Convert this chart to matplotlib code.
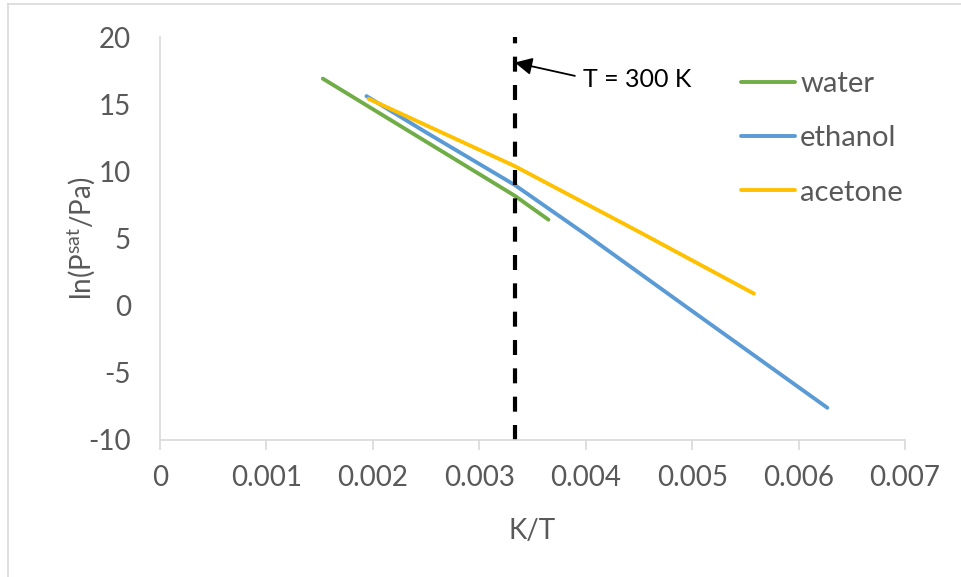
#!/usr/bin/python3
# Vapour pressure curves, ln(Psat/Pa) against 1/T, with a marker at 300 K.
import numpy as np
from matplotlib import pyplot as plt
from matplotlib.lines import Line2D

#--------------------------------------------
# Data
water_x = [0.00153, 0.00333, 0.00365]
water_y = [16.9, 8.2, 6.4]

ethanol_x = [0.00194, 0.0025, 0.00333, 0.004, 0.005, 0.00627]
ethanol_y = [15.6, 12.9, 9.0, 5.3, -0.4, -7.6]

acetone_x = [0.00196, 0.00333, 0.0045, 0.00558]
acetone_y = [15.4, 10.4, 5.5, 0.9]

T_mark = 300.0
x_ticks = [0, 0.001, 0.002, 0.003, 0.004, 0.005, 0.006, 0.007]
x_tick_labels = ["0", "0.001", "0.002", "0.003", "0.004", "0.005", "0.006", "0.007"]
y_ticks = [-10, -5, 0, 5, 10, 15, 20]

#--------------------------------------------
# Style
plt.rcParams['font.family'] = ['Lato', 'DejaVu Sans']
plt.rcParams['axes.unicode_minus'] = False
text_color = '#595959'
axis_color = '#D9D9D9'
fs = 20

fig = plt.figure(figsize = (9.61, 5.77), dpi = 100)
ax = fig.add_axes([160/961, 137/577, 745/961, 403/577])

ax.plot(water_x, water_y, color = '#70AD47', lw = 2.8,
        solid_capstyle = 'round', label = 'water')
ax.plot(ethanol_x, ethanol_y, color = '#5B9BD5', lw = 2.8,
        solid_capstyle = 'round', label = 'ethanol')
ax.plot(acetone_x, acetone_y, color = '#FFC000', lw = 2.8,
        solid_capstyle = 'round', label = 'acetone')

# vertical line at T = 300 K
ax.plot([1/T_mark, 1/T_mark], [y_ticks[0], y_ticks[-1]], color = 'k',
        lw = 3, dashes = (3.6, 3.2), dash_capstyle = 'butt', clip_on = False)

ax.annotate('T = 300 K', xy = (1/T_mark, 18.1), xytext = (0.003975, 16.8),
            ha = 'left', va = 'center', fontsize = 18, color = 'k',
            arrowprops = dict(arrowstyle = '-|>', color = 'k', lw = 1.3,
                              mutation_scale = 26, shrinkA = 4, shrinkB = 0,
                              relpos = (0, 0.6)))

ax.set_xlim(0, 0.007)
ax.set_ylim(-10, 20)
ax.set_xticks(x_ticks)
ax.set_xticklabels(x_tick_labels)
ax.set_yticks(y_ticks)

for side in ['top', 'right']:
    ax.spines[side].set_visible(False)
for side in ['left', 'bottom']:
    ax.spines[side].set_color(axis_color)
    ax.spines[side].set_linewidth(1.2)

ax.tick_params(axis = 'x', direction = 'out', length = 7.2, width = 1.2,
               color = axis_color, labelcolor = text_color, labelsize = fs, pad = 11)
ax.tick_params(axis = 'y', length = 0, labelcolor = text_color,
               labelsize = fs, pad = 21)

ax.set_xlabel('K/T', fontsize = fs, color = text_color, labelpad = 19)
ax.set_ylabel(r'ln(P$^{\mathregular{sat}}$/Pa)', fontsize = fs,
              color = text_color, labelpad = -6)

leg = ax.legend(loc = 'upper left', bbox_to_anchor = (741/961, 1 - 71/577),
                bbox_transform = fig.transFigure, frameon = False,
                fontsize = 21, handlelength = 1.85, handletextpad = 0.18,
                labelspacing = 0.97, borderpad = 0, borderaxespad = 0)
for t in leg.get_texts():
    t.set_color(text_color)

# chart area border (only left and top edges are inside the picture)
fig.add_artist(Line2D([8/961, 8/961], [0, 1 - 4/577], color = axis_color,
                      lw = 1.2, transform = fig.transFigure))
fig.add_artist(Line2D([8/961, 1], [1 - 4/577, 1 - 4/577], color = axis_color,
                      lw = 1.2, transform = fig.transFigure))

plt.savefig("out.png", dpi = 100)
